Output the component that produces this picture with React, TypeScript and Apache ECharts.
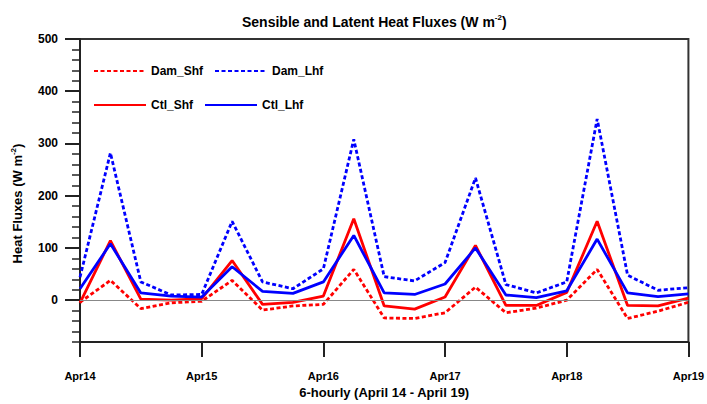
import React, { useEffect, useRef } from "react";
import * as echarts from "echarts";

const categories = [
  "Apr14 00Z", "Apr14 06Z", "Apr14 12Z", "Apr14 18Z",
  "Apr15 00Z", "Apr15 06Z", "Apr15 12Z", "Apr15 18Z",
  "Apr16 00Z", "Apr16 06Z", "Apr16 12Z", "Apr16 18Z",
  "Apr17 00Z", "Apr17 06Z", "Apr17 12Z", "Apr17 18Z",
  "Apr18 00Z", "Apr18 06Z", "Apr18 12Z", "Apr18 18Z",
  "Apr19 00Z",
];

const damShf = [-4, 38, -16, -5, -2, 38, -19, -11, -8, 59, -34, -35, -24, 25, -24, -15, 0, 59, -35, -21, -4];
const damLhf = [44, 282, 35, 10, 11, 151, 35, 22, 60, 308, 45, 37, 72, 234, 30, 14, 35, 347, 48, 19, 24];
const ctlShf = [-5, 114, 2, 0, 3, 76, -8, -4, 8, 156, -11, -17, 6, 105, -10, -10, 15, 151, -10, -11, 4];
const ctlLhf = [22, 108, 14, 8, 6, 64, 17, 13, 35, 124, 14, 11, 31, 100, 10, 5, 18, 117, 14, 7, 12];

const majorTicks = [0, 100, 200, 300, 400, 500];

const FONT = "Liberation Sans";
const RED = "#ff0000";
const BLUE = "#0000ff";
const AXIS = "#222222";

export default function App() {
  const ref = useRef<HTMLDivElement>(null);
  useEffect(() => {
    document.body.style.margin = "0";
    const chart = echarts.init(ref.current!, null, { renderer: "svg" });
    const dotted = [4, 2.5];
    const legendText = { fontWeight: "bold", fontSize: 12, color: "#000", width: 55, fontFamily: FONT };
    const legendCommon = {
      left: 88,
      itemWidth: 52,
      itemHeight: 10,
      itemGap: 11,
      selectedMode: false,
      textStyle: legendText,
      itemStyle: { opacity: 0 },
    };
    chart.setOption({
      animation: false,
      textStyle: { fontFamily: FONT },
      title: {
        text: "{a|Sensible and Latent Heat Fluxes (W m}{s|-2}{a|)}",
        left: 237,
        top: 8,
        textStyle: {
          rich: {
            a: { fontSize: 14, fontWeight: "bold", color: "#000", fontFamily: FONT, lineHeight: 18 },
            s: { fontSize: 8, fontWeight: "bold", color: "#000", fontFamily: FONT, verticalAlign: "top", lineHeight: 10 },
          },
        },
      },
      legend: [
        { ...legendCommon, data: ["Dam_Shf", "Dam_Lhf"], top: 60 },
        { ...legendCommon, data: ["Ctl_Shf", "Ctl_Lhf"], top: 94 },
      ],
      grid: {
        left: 80,
        right: 16,
        top: 39,
        bottom: 60,
        show: true,
        borderColor: "#333",
        borderWidth: 2,
      },
      xAxis: {
        type: "category",
        data: categories,
        boundaryGap: false,
        name: "6-hourly (April 14 - April 19)",
        nameLocation: "middle",
        nameGap: 44,
        nameTextStyle: { fontWeight: "bold", fontSize: 13, color: "#000", fontFamily: FONT },
        axisLine: { onZero: false, lineStyle: { color: AXIS, width: 2 } },
        axisTick: { interval: 3, length: 15, lineStyle: { color: AXIS, width: 2 } },
        axisLabel: {
          interval: 3,
          formatter: (v: string) => v.split(" ")[0],
          fontWeight: "bold",
          fontSize: 11,
          color: "#000",
          margin: 28,
        },
        splitLine: { show: false },
      },
      yAxis: [
        {
          type: "value",
          min: -80,
          max: 500,
          interval: 20,
          position: "left",
          axisLine: { show: true, onZero: false, lineStyle: { color: AXIS, width: 2 } },
          axisTick: { show: true, length: 8, lineStyle: { color: AXIS, width: 1.5 } },
          axisLabel: { show: false },
          splitLine: { show: false },
        },
        {
          type: "value",
          min: -80,
          max: 500,
          position: "left",
          axisLine: { show: false, onZero: false },
          axisTick: { show: true, length: 15, customValues: majorTicks, lineStyle: { color: AXIS, width: 2 } },
          axisLabel: {
            customValues: majorTicks,
            fontWeight: "bold",
            fontSize: 12,
            color: "#000",
            margin: 22,
          },
          splitLine: { show: false },
          name: "{a|Heat Fluxes (W m}{s|-2}{a|)}",
          nameLocation: "middle",
          nameGap: 55,
          nameTextStyle: {
            padding: [0, 26, 0, 0],
            rich: {
              a: { fontSize: 13, fontWeight: "bold", color: "#000", fontFamily: FONT, lineHeight: 16 },
              s: { fontSize: 8, fontWeight: "bold", color: "#000", fontFamily: FONT, verticalAlign: "top", lineHeight: 9 },
            },
          },
        },
      ],
      series: [
        {
          name: "Dam_Shf",
          type: "line",
          data: damShf,
          symbol: "none",
          color: RED,
          lineStyle: { color: RED, width: 2.8, type: dotted },
          markLine: {
            silent: true,
            symbol: "none",
            label: { show: false },
            lineStyle: { color: "#888", width: 1, type: "solid" },
            data: [{ yAxis: 0 }],
          },
          z: 2,
        },
        {
          name: "Dam_Lhf",
          type: "line",
          data: damLhf,
          symbol: "none",
          color: BLUE,
          lineStyle: { color: BLUE, width: 2.8, type: dotted },
          z: 3,
        },
        {
          name: "Ctl_Shf",
          type: "line",
          data: ctlShf,
          symbol: "none",
          color: RED,
          lineStyle: { color: RED, width: 2.8, type: "solid" },
          z: 4,
        },
        {
          name: "Ctl_Lhf",
          type: "line",
          data: ctlLhf,
          symbol: "none",
          color: BLUE,
          lineStyle: { color: BLUE, width: 2.8, type: "solid" },
          z: 5,
        },
      ],
    });
    return () => chart.dispose();
  }, []);
  return <div ref={ref} style={{ width: 707, height: 404 }} />;
}
